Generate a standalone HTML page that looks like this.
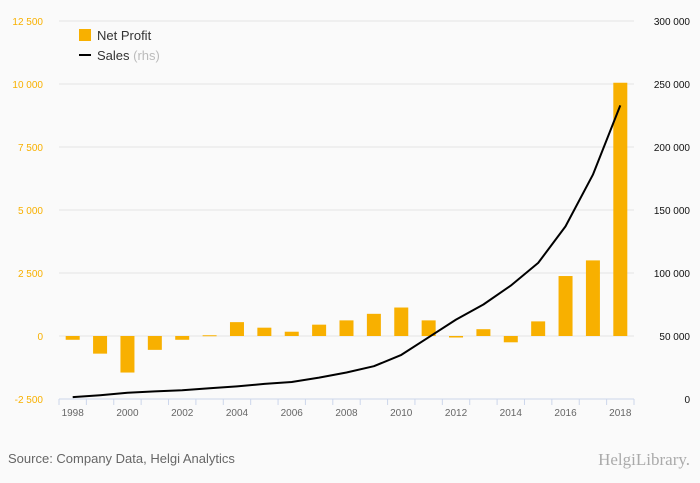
<!DOCTYPE html>
<html><head><meta charset="utf-8"><style>
html,body{margin:0;padding:0;background:#fafafa;}
svg{display:block;font-family:"Liberation Sans",sans-serif;}
</style></head><body>
<svg id="chart" width="700" height="483" viewBox="0 0 700 483">
<rect width="700" height="483" fill="#fafafa"/>
<g id="grid"></g>
<g id="bars"></g>
<g id="line"></g>
<g id="axes"></g>
<g>
<rect x="79" y="29" width="12" height="12" fill="#f8b000"/>
<text x="97" y="40" font-size="13" fill="#333">Net Profit</text>
<rect x="79" y="54" width="12" height="2" fill="#000"/>
<text x="97" y="60" font-size="13" fill="#333">Sales <tspan fill="#bbb">(rhs)</tspan></text>
</g>
<text x="8" y="463" font-size="13" fill="#666">Source: Company Data, Helgi Analytics</text>
<text x="690" y="465" font-size="17" fill="#aaa" text-anchor="end" font-family="Liberation Serif,serif">HelgiLibrary.</text>
</svg>
<script>
const years=[1998,1999,2000,2001,2002,2003,2004,2005,2006,2007,2008,2009,2010,2011,2012,2013,2014,2015,2016,2017,2018];
const netProfit=[-150,-700,-1450,-550,-150,30,550,330,170,450,620,880,1130,620,-60,270,-250,580,2380,3000,10050];
const sales=[1500,3000,5000,6000,7000,8500,10000,12000,13500,17000,21000,26000,35000,49000,63000,75000,90000,108000,137000,178000,233000];
const leftTicks=[-2500,0,2500,5000,7500,10000,12500];
const rightTicks=[0,50000,100000,150000,200000,250000,300000];
const xLabels=[1998,2000,2002,2004,2006,2008,2010,2012,2014,2016,2018];

const NS="http://www.w3.org/2000/svg";
const x0=59,x1=634,plotTop=21,plotBot=399;
const bw=(x1-x0)/years.length;
const xC=i=>x0+bw*(i+0.5);
const yL=v=>plotBot-(v+2500)/15000*(plotBot-plotTop);
const yR=v=>plotBot-v/300000*(plotBot-plotTop);
const fmt=v=>{const s=Math.abs(v).toString().replace(/\B(?=(\d{3})+(?!\d))/g," ");return (v<0?"-":"")+s;};
function mk(tag,attrs,parent){const e=document.createElementNS(NS,tag);for(const k in attrs)e.setAttribute(k,attrs[k]);document.getElementById(parent).appendChild(e);return e;}

leftTicks.forEach(v=>{
  const y=yL(v);
  if(v>-2500){const g=mk("line",{x1:x0,x2:x1,y1:y,y2:y,stroke:"#e4e4e4","stroke-width":1},"grid");
  
  }
  const t=mk("text",{x:43,y:y+4,"text-anchor":"end","font-size":10,fill:"#f8b000"},"axes");t.textContent=fmt(v);
  
  
});
rightTicks.forEach(v=>{
  const t=mk("text",{x:690,y:yR(v)+4,"text-anchor":"end","font-size":10,fill:"#111"},"axes");t.textContent=fmt(v);
  
  
});
const ax=mk("line",{x1:x0,x2:x1,y1:plotBot,y2:plotBot,stroke:"#ccd6eb","stroke-width":1},"axes");


for(let i=0;i<=years.length;i++){
  const x=x0+bw*i;
  const tk=mk("line",{x1:x,x2:x,y1:plotBot,y2:plotBot+6,stroke:"#ccd6eb"},"axes");
  
  
}
xLabels.forEach(yr=>{
  const i=years.indexOf(yr);
  const t=mk("text",{x:xC(i),y:416,"text-anchor":"middle","font-size":10,fill:"#666"},"axes");t.textContent=yr;
  
  
});
netProfit.forEach((v,i)=>{
  const y0=yL(0),y=yL(v);
  const r=mk("rect",{x:xC(i)-7,y:Math.min(y,y0),width:14,height:Math.max(1,Math.abs(y-y0)),fill:"#f8b000"},"bars");
  
  
});
const d=sales.map((v,i)=>(i?"L":"M")+xC(i).toFixed(1)+","+yR(v).toFixed(1)).join("");
const p=mk("path",{d:d,fill:"none",stroke:"#000","stroke-width":2,"stroke-linejoin":"round"},"line");


</script>
</body></html>
